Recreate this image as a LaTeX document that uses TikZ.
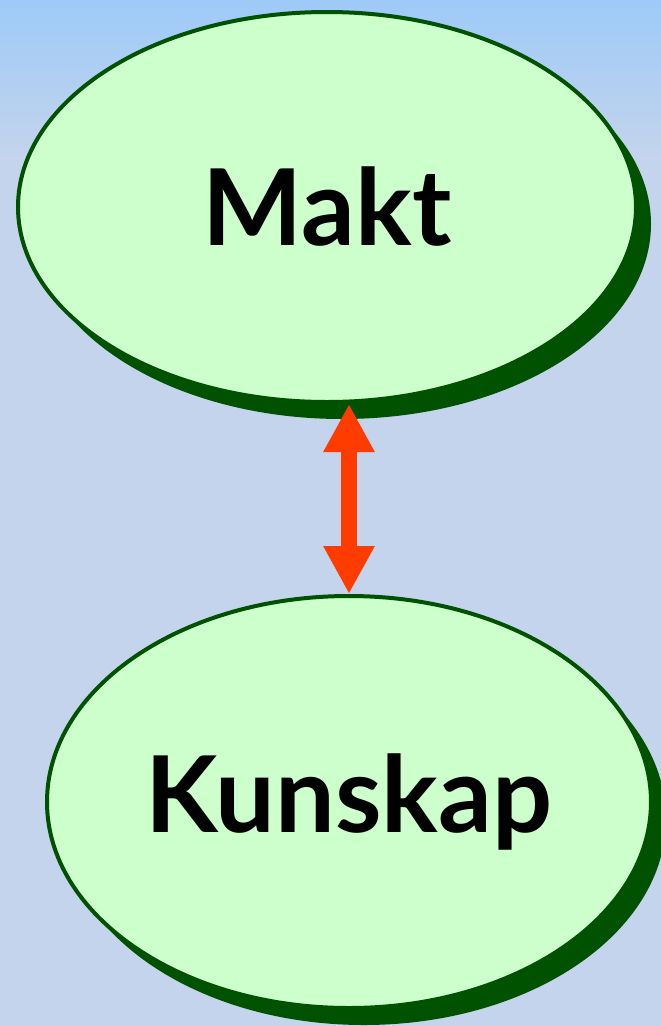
\documentclass[tikz,border=0pt]{standalone}
\usepackage{fontspec}
\setmainfont{Lato}
\usepackage{tikz}
\usetikzlibrary{arrows.meta, positioning, shapes.geometric, shadows}

\definecolor{bgblue}{HTML}{C4D4EC}
\definecolor{topblue}{HTML}{9ECAF8}
\definecolor{leafgreen}{HTML}{CCFFCC}
\definecolor{darkgreen}{HTML}{005200}
\definecolor{arrowred}{HTML}{FF3C00}

\begin{document}
\begin{tikzpicture}[
	  x=1pt, y=-1pt,
	  font=\fontsize{106}{110}\selectfont\bfseries,
	  blob/.style={
	    ellipse,
	    draw=darkgreen,
	    line width=4pt,
	    fill=leafgreen,
	    inner sep=0pt,
	    drop shadow={shadow xshift=15pt, shadow yshift=-17pt, fill=darkgreen, opacity=1}
	  },
	  dblarrow/.style={{Triangle[width=48pt,length=48pt]}-{Triangle[width=48pt,length=48pt]},line width=16pt,draw=arrowred}
	]
	
	% background
	\fill[bgblue] (0,0) rectangle (661,1026);
	\shade[top color=topblue, bottom color=bgblue] (0,0) rectangle (661,160);
	\useasboundingbox (0,0) rectangle (661,1026);
	
	\node[blob, minimum width=618pt, minimum height=390pt] (makt) at (327,207) {Makt};
	\node[blob, minimum width=604pt, minimum height=412pt] (kunskap) at (349,802) {Kunskap};
	
	\draw[dblarrow] (kunskap.north |- makt.south) -- (kunskap.north);
	
\end{tikzpicture}
\end{document}
